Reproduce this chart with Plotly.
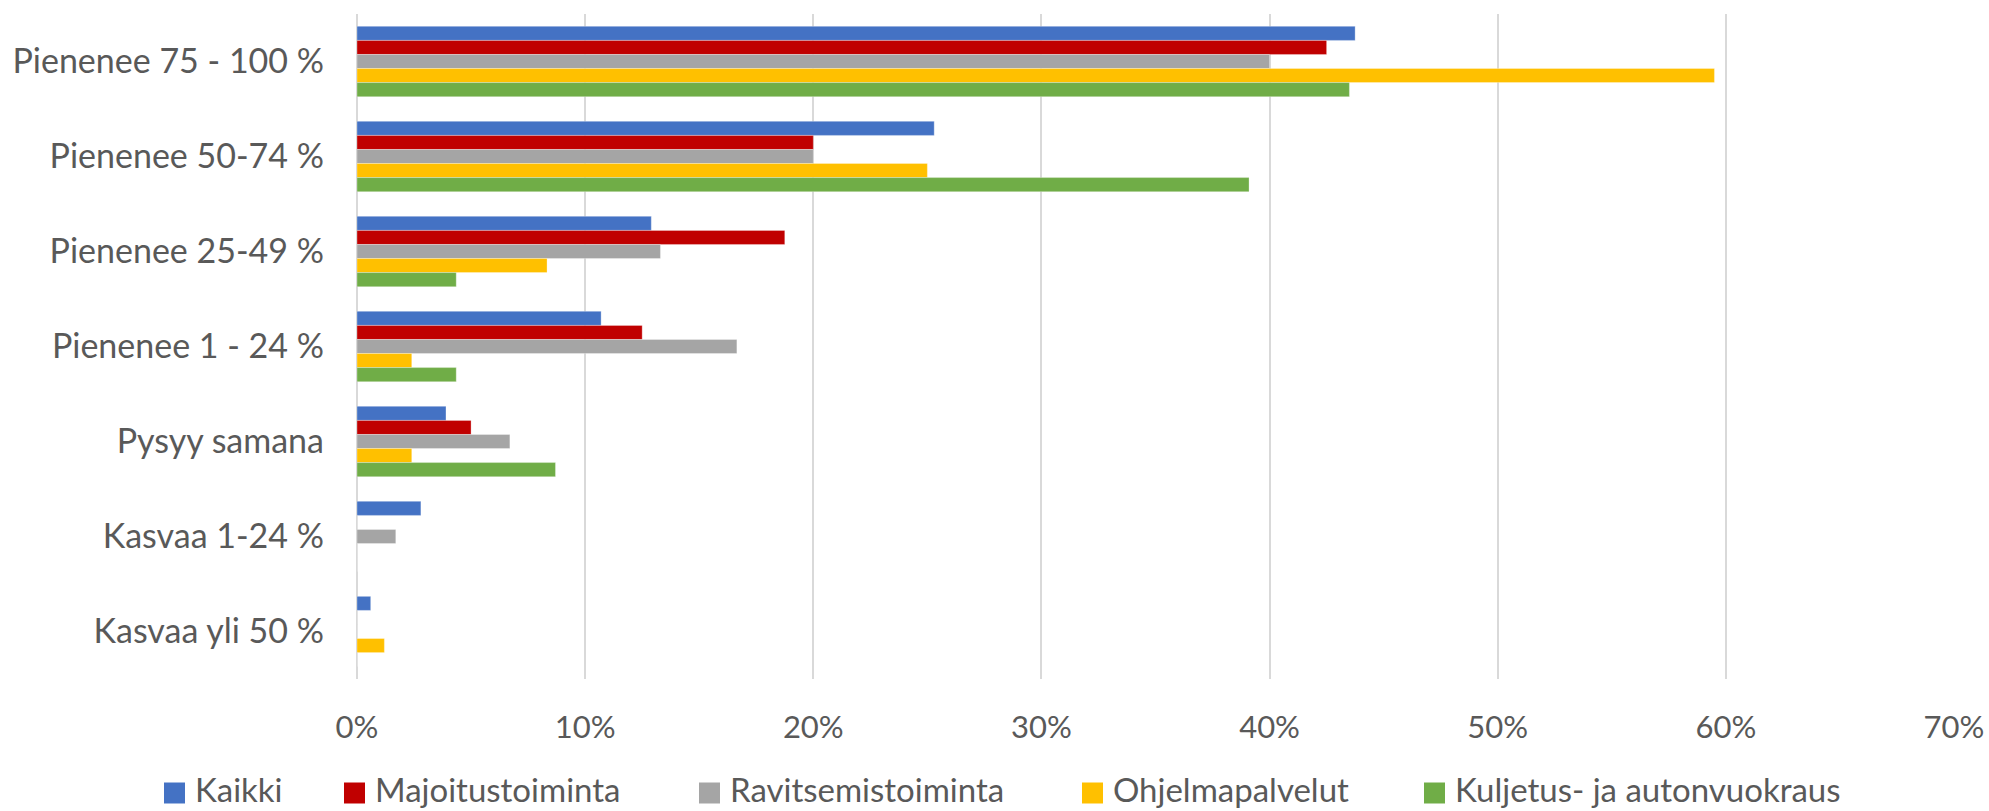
import plotly.graph_objects as go

# Data
categories = ["Pienenee 75 - 100 %", "Pienenee 50-74 %", "Pienenee 25-49 %",
              "Pienenee 1 - 24 %", "Pysyy samana", "Kasvaa 1-24 %", "Kasvaa yli 50 %"]
series_names = ["Kaikki", "Majoitustoiminta", "Ravitsemistoiminta",
                "Ohjelmapalvelut", "Kuljetus- ja autonvuokraus"]
kaikki = [0.4375, 0.253, 0.129, 0.107, 0.039, 0.028, 0.006]
majoitus = [0.425, 0.200, 0.1875, 0.125, 0.050, 0.0, 0.0]
ravitsemis = [0.400, 0.200, 0.133, 0.1665, 0.067, 0.017, 0.0]
ohjelma = [0.595, 0.250, 0.0833, 0.024, 0.024, 0.0, 0.012]
kuljetus = [0.435, 0.391, 0.0435, 0.0435, 0.087, 0.0, 0.0]
colors = ["#4472C4", "#C00000", "#A5A5A5", "#FFC000", "#70AD47"]

values = [kaikki, majoitus, ravitsemis, ohjelma, kuljetus]

font_family = "Lato, Liberation Sans, sans-serif"
text_color = "#595959"

W, H = 1989, 811
L, R, T, B = 357, 35, 14, 132
plot_w = W - L - R
plot_h = H - T - B

fig = go.Figure()
for name, vals, col in zip(series_names, values, colors):
    fig.add_trace(go.Bar(
        y=categories,
        x=vals,
        name=name,
        orientation="h",
        marker_color=col,
        marker_line=dict(color="rgba(255,255,255,0.6)", width=0.5),
        showlegend=False,
    ))

# hand-made legend (bigger swatches and wider spacing than plotly's own)
legend_left = [164, 344, 699, 1082, 1424]   # swatch left edge, px
legend_y = 789
sw = 21


def to_paper_x(px):
    return (px - L) / plot_w


def to_paper_y(py):
    return (T + plot_h - py) / plot_h


for name, col, x0 in zip(series_names, colors, legend_left):
    fig.add_shape(
        type="rect", xref="paper", yref="paper",
        x0=to_paper_x(x0), x1=to_paper_x(x0 + sw),
        y0=to_paper_y(legend_y + 4 + sw / 2), y1=to_paper_y(legend_y + 4 - sw / 2),
        fillcolor=col, line_width=0,
    )
    fig.add_annotation(
        text=name, xref="paper", yref="paper",
        x=to_paper_x(x0 + sw + 8), y=to_paper_y(legend_y),
        xanchor="left", yanchor="middle", showarrow=False,
        font=dict(size=33, color=text_color, family=font_family),
    )

fig.update_layout(
    width=W,
    height=H,
    barmode="group",
    bargap=0.26,
    bargroupgap=0,
    plot_bgcolor="white",
    paper_bgcolor="white",
    margin=dict(l=L, r=R, t=T, b=B, autoexpand=False),
    font=dict(family=font_family, size=31, color=text_color),
    showlegend=False,
)

fig.update_xaxes(
    range=[0, 0.7],
    dtick=0.1,
    tickformat=".0%",
    showgrid=True,
    gridcolor="#D9D9D9",
    gridwidth=1.5,
    zeroline=True,
    zerolinecolor="#D9D9D9",
    zerolinewidth=1.5,
    showline=False,
    ticks="",
    ticklabelstandoff=27,
    tickfont=dict(size=31),
    automargin=False,
)
fig.update_yaxes(
    autorange="reversed",
    showgrid=False,
    showline=False,
    ticks="",
    ticklabelstandoff=32,
    tickfont=dict(size=34),
    automargin=False,
)

# drop the default page margin/scrollbars so the figure fills the window exactly
fig.write_html(
    "out.html",
    config={"displayModeBar": False},
    post_script="document.body.style.margin = '0'; document.body.style.overflow = 'hidden';",
)
